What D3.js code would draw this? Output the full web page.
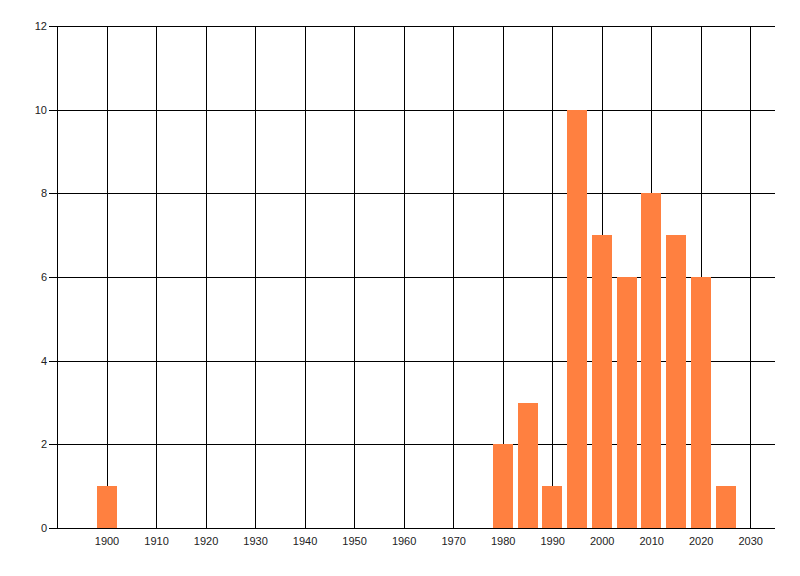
<!DOCTYPE html>
<html><head><meta charset="utf-8">
<script src="https://cdn.jsdelivr.net/npm/d3@7"></script>
<style>body{margin:0;background:#fff}svg{display:block}</style>
</head><body>
<script>
const years = [1900, 1980, 1985, 1990, 1995, 2000, 2005, 2010, 2015, 2020, 2025];
const counts = [1, 2, 3, 1, 10, 7, 6, 8, 7, 6, 1];
const xTicks = [1900, 1910, 1920, 1930, 1940, 1950, 1960, 1970, 1980, 1990, 2000, 2010, 2020, 2030];
const yTicks = [0, 2, 4, 6, 8, 10, 12];

const W = 800, H = 576;
const L = 57, R = 775, T = 26, B = 528;
const svg = d3.select("body").append("svg").attr("width", W).attr("height", H);
const x = d3.scaleLinear().domain([1890, 2035]).range([L, R]);
const y = d3.scaleLinear().domain([0, 12]).range([B, T]);
const font = "'Liberation Sans', Arial, sans-serif";

// horizontal gridlines
svg.append("g").selectAll("line").data(yTicks).join("line")
  .attr("x1", L - 8).attr("x2", R)
  .attr("y1", d => Math.round(y(d)) + 0.5).attr("y2", d => Math.round(y(d)) + 0.5)
  .attr("stroke", "#000").attr("stroke-width", 1);
// vertical gridlines
svg.append("g").selectAll("line").data(xTicks).join("line")
  .attr("x1", d => Math.round(x(d)) + 0.5).attr("x2", d => Math.round(x(d)) + 0.5)
  .attr("y1", T).attr("y2", B)
  .attr("stroke", "#000").attr("stroke-width", 1);
// left axis line
svg.append("line").attr("x1", L + 0.5).attr("x2", L + 0.5).attr("y1", T).attr("y2", B + 0.5)
  .attr("stroke", "#000");

// bars
const bw = x(1904) - x(1900);
svg.append("g").selectAll("rect").data(years).join("rect")
  .attr("x", d => Math.round(x(d) - bw / 2))
  .attr("width", Math.round(bw))
  .attr("y", (d, i) => Math.round(y(counts[i])))
  .attr("height", (d, i) => Math.round(y(0)) - Math.round(y(counts[i])))
  .attr("fill", "#FF8040");

// y labels
svg.append("g").selectAll("text").data(yTicks).join("text")
  .attr("x", L - 10).attr("y", d => y(d) + 4)
  .attr("text-anchor", "end").attr("font-family", font).attr("font-size", 11)
  .attr("fill", "#222").text(d => d);
// x labels
svg.append("g").selectAll("text").data(xTicks).join("text")
  .attr("x", d => x(d) + 0.5).attr("y", B + 17)
  .attr("text-anchor", "middle").attr("font-family", font).attr("font-size", 11)
  .attr("fill", "#222").text(d => d);
</script>
</body></html>
